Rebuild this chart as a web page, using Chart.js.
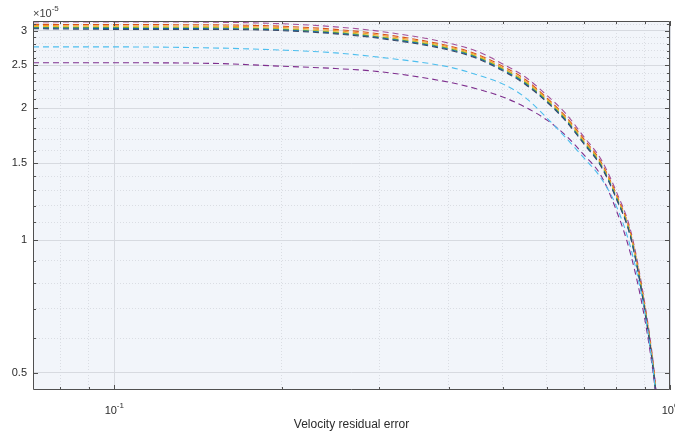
<!DOCTYPE html>
<html>
<head>
<meta charset="utf-8">
<script src="https://cdn.jsdelivr.net/npm/chart.js@4.4.1/dist/chart.umd.min.js"></script>
<style>
  html, body { margin: 0; padding: 0; background: #fff; }
</style>
</head>
<body>
<canvas id="residualChart" width="675" height="436"></canvas>
<script>
// 残差采样点 (x)，各曲线数值单位为 1e-5
const residualErr = [0.0714, 0.1, 0.15, 0.2, 0.25, 0.3, 0.4, 0.45, 0.5, 0.55, 0.6, 0.65, 0.7, 0.75, 0.8, 0.85, 0.9, 0.935, 0.95];

const curveMauve  = [3.14, 3.14, 3.135, 3.11, 3.06, 2.99, 2.81, 2.69, 2.52, 2.35, 2.14, 1.94, 1.72, 1.535, 1.294, 1.05, 0.724, 0.515, 0.422];
const curveRed    = [3.10, 3.096, 3.092, 3.07, 3.02, 2.95, 2.77, 2.65, 2.49, 2.32, 2.11, 1.91, 1.70, 1.514, 1.276, 1.036, 0.714, 0.508, 0.417];
const curveOrange = [3.08, 3.075, 3.07, 3.05, 3.00, 2.93, 2.755, 2.635, 2.47, 2.30, 2.10, 1.90, 1.685, 1.503, 1.267, 1.029, 0.709, 0.505, 0.414];
const curveYellow = [3.065, 3.06, 3.055, 3.03, 2.98, 2.91, 2.74, 2.62, 2.46, 2.29, 2.09, 1.888, 1.677, 1.496, 1.261, 1.024, 0.706, 0.502, 0.412];
const curveGreen  = [3.05, 3.047, 3.043, 3.02, 2.97, 2.90, 2.73, 2.61, 2.45, 2.28, 2.08, 1.88, 1.67, 1.49, 1.256, 1.02, 0.703, 0.50, 0.41];
const curveBlue   = [3.04, 3.035, 3.03, 3.01, 2.96, 2.89, 2.72, 2.60, 2.44, 2.27, 2.07, 1.872, 1.663, 1.484, 1.251, 1.016, 0.70, 0.498, 0.408];
const curveDark   = [3.03, 3.02, 3.02, 3.00, 2.95, 2.88, 2.71, 2.59, 2.43, 2.26, 2.065, 1.865, 1.657, 1.478, 1.246, 1.012, 0.697, 0.496, 0.407];
const curveCyan   = [2.755, 2.755, 2.74, 2.71, 2.67, 2.61, 2.48, 2.38, 2.27, 2.11, 1.90, 1.71, 1.54, 1.39, 1.20, 0.96, 0.69, 0.494, 0.41];
const curvePurple = [2.535, 2.535, 2.527, 2.49, 2.46, 2.42, 2.29, 2.21, 2.12, 2.007, 1.88, 1.73, 1.565, 1.41, 1.174, 0.928, 0.667, 0.487, 0.41];

const curves = [curveCyan, curvePurple, curveDark, curveBlue, curveGreen, curveYellow, curveOrange, curveRed, curveMauve];
const curveColors = ['#4DBEEE', '#7E2F8E', '#3D4A66', '#0072BD', '#77AC30', '#E3C02E', '#F0962E', '#D95319', '#A2509A'];

// 坐标轴刻度
const yTickValues = [0.5, 0.6, 0.7, 0.8, 0.9, 1, 1.1, 1.2, 1.3, 1.4, 1.5, 1.6, 1.7, 1.8, 1.9, 2, 2.1, 2.2, 2.3, 2.4, 2.5, 2.6, 2.7, 2.8, 2.9, 3, 3.1];
const yMajorTicks = [0.5, 1, 1.5, 2, 2.5, 3];
const yTickLabels = ['0.5', '1', '1.5', '2', '2.5', '3'];
const xTickValues = [0.08, 0.09, 0.1, 0.2, 0.3, 0.4, 0.5, 0.6, 0.7, 0.8, 0.9, 1];
const xMajorTicks = [0.1, 1];
const xTickExponents = ['-1', '0'];

const FONT = "'Liberation Sans', Arial, sans-serif";
const TEXT_COLOR = '#2b2b2b';

// 背景、边框、内向刻度线和带上标的文字
const axesFrame = {
    id: 'axesFrame',
    beforeDraw(chart) {
        const { ctx, chartArea: a } = chart;
        ctx.save();
        ctx.fillStyle = '#F2F5FA';
        ctx.fillRect(a.left, a.top, a.right - a.left, a.bottom - a.top);
        ctx.restore();
    },
    afterDraw(chart) {
        const { ctx, chartArea: a } = chart;
        const xs = chart.scales.x, ys = chart.scales.y;
        ctx.save();
        ctx.strokeStyle = '#505050';
        ctx.lineWidth = 1;
        ctx.beginPath();
        ctx.rect(a.left + 0.5, a.top + 0.5, a.right - a.left - 1, a.bottom - a.top - 1);
        ys.ticks.forEach(t => {
            const py = Math.round(ys.getPixelForValue(t.value)) + 0.5;
            const len = t.major ? 5 : 3;
            ctx.moveTo(a.left, py); ctx.lineTo(a.left + len, py);
            ctx.moveTo(a.right, py); ctx.lineTo(a.right - len, py);
        });
        xs.ticks.forEach(t => {
            const px = Math.round(xs.getPixelForValue(t.value)) + 0.5;
            const len = t.major ? 5 : 3;
            ctx.moveTo(px, a.bottom); ctx.lineTo(px, a.bottom - len);
            ctx.moveTo(px, a.top); ctx.lineTo(px, a.top + len);
        });
        ctx.stroke();

        // x 轴刻度标签 10^n
        ctx.fillStyle = TEXT_COLOR;
        ctx.textBaseline = 'alphabetic';
        ctx.textAlign = 'left';
        xMajorTicks.forEach((v, i) => {
            const px = xs.getPixelForValue(v);
            ctx.font = '11px ' + FONT;
            const wBase = ctx.measureText('10').width;
            ctx.font = '8px ' + FONT;
            const wExp = ctx.measureText(xTickExponents[i]).width;
            const x0 = px - (wBase + wExp) / 2;
            ctx.font = '11px ' + FONT;
            ctx.fillText('10', x0, 414);
            ctx.font = '8px ' + FONT;
            ctx.fillText(xTickExponents[i], x0 + wBase, 408);
        });

        // y 轴倍数
        ctx.fillStyle = '#404040';
        ctx.font = '11px ' + FONT;
        ctx.fillText('\u00d710', 33, 17);
        const wMul = ctx.measureText('\u00d710').width;
        ctx.font = '8px ' + FONT;
        ctx.fillText('-5', 33 + wMul, 11);
        ctx.restore();
    }
};

const gridColor = ctx => (ctx.tick && ctx.tick.major) ? '#D7DAE0' : '#DADDE3';
const gridDash = ctx => (ctx.tick && !ctx.tick.major) ? [1, 2] : [];

new Chart(document.getElementById('residualChart'), {
    type: 'line',
    data: {
        datasets: curves.map((c, i) => ({
            data: residualErr.map((x, j) => ({ x: x, y: c[j] })),
            borderColor: curveColors[i],
            borderWidth: 1.1,
            borderDash: [6, 4],
            pointRadius: 0,
            fill: false,
            cubicInterpolationMode: 'monotone'
        }))
    },
    options: {
        responsive: false,
        animation: false,
        devicePixelRatio: 1,
        layout: { padding: { top: 21, right: 5, left: 0, bottom: 0 } },
        plugins: {
            legend: { display: false },
            tooltip: { enabled: false }
        },
        scales: {
            x: {
                type: 'logarithmic',
                min: 0.0714,
                max: 1,
                afterBuildTicks: function(scale) {
                    scale.ticks = xTickValues.map(v => ({ value: v, major: xMajorTicks.includes(v) }));
                },
                afterFit: function(scale) { scale.height = 46; },
                ticks: { display: false, autoSkip: false },
                grid: { color: gridColor, lineWidth: 1, drawTicks: false },
                border: { display: false, dash: gridDash },
                title: {
                    display: true,
                    text: 'Velocity residual error',
                    color: TEXT_COLOR,
                    font: { family: FONT, size: 12 },
                    padding: { top: 0, bottom: 4 }
                }
            },
            y: {
                type: 'logarithmic',
                min: 0.457,
                max: 3.155,
                afterBuildTicks: function(scale) {
                    scale.ticks = yTickValues.map(v => ({ value: v, major: yMajorTicks.includes(v) }));
                },
                afterFit: function(scale) { scale.width = 33; },
                ticks: {
                    autoSkip: false,
                    padding: 6,
                    color: TEXT_COLOR,
                    font: { family: FONT, size: 11 },
                    callback: function(value) {
                        const k = yMajorTicks.indexOf(value);
                        return k >= 0 ? yTickLabels[k] : '';
                    }
                },
                grid: { color: gridColor, lineWidth: 1, drawTicks: false },
                border: { display: false, dash: gridDash }
            }
        }
    },
    plugins: [axesFrame]
});
</script>
</body>
</html>
